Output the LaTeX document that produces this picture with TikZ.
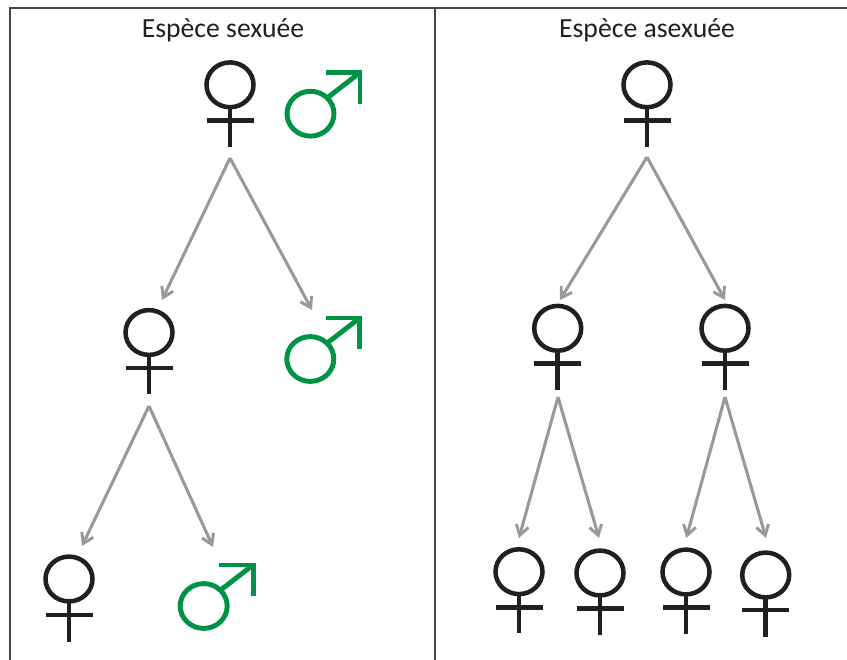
\documentclass[tikz,border=0pt]{standalone}
\usepackage{fontspec}
\setmainfont{Carlito}
\usetikzlibrary{arrows.meta}
\definecolor{mgreen}{RGB}{0,146,69}
\definecolor{ink}{RGB}{35,31,32}
\definecolor{arr}{RGB}{153,153,153}
\definecolor{frm}{RGB}{70,70,70}
\tikzset{
  px/.style={x=0.0264cm,y=-0.0264cm},
  frameline/.style={draw=frm,line width=0.9pt},
  conn/.style={draw=arr,line width=2.3pt,-{Straight Barb[length=7.5pt,width=9.5pt,line width=2.2pt]}},
  title/.style={font=\fontsize{20.8}{24}\selectfont,text=ink,inner sep=0pt},
  femsymb/.style={draw=ink,line width=3.4pt},
  malsymb/.style={draw=mgreen,line width=3.7pt},
}
\newcommand{\fem}[4]{% x, y centre, bar y, stem-end y
  \draw[femsymb] (#1,#2) ellipse[x radius=23.5,y radius=22.4];
  \draw[femsymb] (#1,#2+22) -- (#1,#4);
  \draw[femsymb] (#1-23.5,#3) -- (#1+23.5,#3);
}
\newcommand{\mal}[2]{% x, y = circle centre
  \draw[malsymb] (#1,#2) ellipse[x radius=23.5,y radius=22.4];
  \draw[malsymb] (#1+17,#2-16) -- (#1+48,#2-40);
  \draw[malsymb,miter limit=10] (#1+15.5,#2-41) -- (#1+49.5,#2-41) -- (#1+49.5,#2-10);
}
\begin{document}
\begin{tikzpicture}[px]
\useasboundingbox (0,0) rectangle (847,660);
\draw[frameline] (10,660) -- (10,8) -- (847,8);
\draw[frameline] (435,8) -- (435,660);
\node[title] (t1) at (223,30) {Espèce sexuée};
\node[title] (t2) at (647,30) {Espèce asexuée};
% left
\fem{230}{84.8}{120.7}{146.7}
\mal{310.5}{113.7}
\fem{149}{332.5}{368}{394.3}
\mal{310.3}{359}
\fem{69}{579}{615}{641.7}
\mal{203.7}{606}
\coordinate (a0) at (230,158);
\coordinate (b0) at (149,406);
\coordinate (am) at (312,310);
\coordinate (cm) at (213,547);
\coordinate (bt) at (162,300);
\coordinate (ct) at (82,546);
\draw[conn] (a0) -- (bt);
\draw[conn] (a0) -- (am);
\draw[conn] (b0) -- (ct);
\draw[conn] (b0) -- (cm);
% right
\fem{647}{84.8}{120.7}{146.7}
\fem{557.7}{328.3}{363.7}{390}
\fem{725}{328.3}{363.7}{390}
\fem{519}{571.7}{607.3}{633.3}
\fem{600}{573}{608.3}{634.7}
\fem{686}{572}{607.3}{633.7}
\fem{765.7}{575}{610}{636.7}
\coordinate (d0) at (647,157);
\coordinate (e0) at (558,397);
\coordinate (f0) at (725,397);
\coordinate (e1) at (560,300);
\coordinate (f1) at (725,300);
\draw[conn] (d0) -- (e1);
\draw[conn] (d0) -- (f1);
\coordinate (g1) at (519,538);
\coordinate (h1) at (599,538);
\coordinate (i1) at (686.3,538);
\coordinate (j1) at (766,538);
\draw[conn] (e0) -- (g1);
\draw[conn] (e0) -- (h1);
\draw[conn] (f0) -- (i1);
\draw[conn] (f0) -- (j1);
\end{tikzpicture}
\end{document}
